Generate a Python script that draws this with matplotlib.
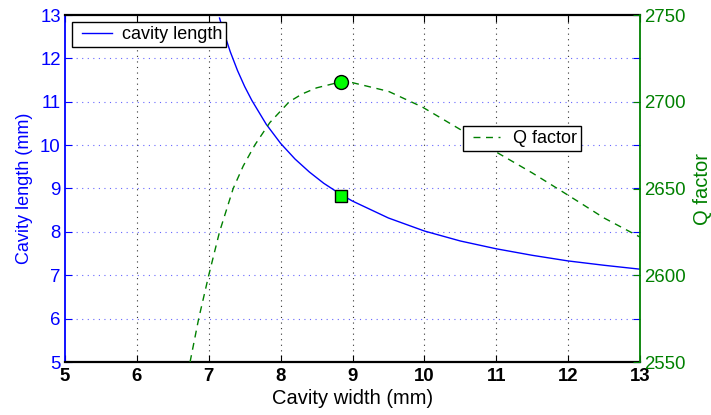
import matplotlib
matplotlib.use("Agg")
import matplotlib.pyplot as plt
from matplotlib.lines import Line2D
from matplotlib.legend_handler import HandlerLine2D

plt.rcParams['font.family'] = ['Liberation Sans', 'DejaVu Sans']

# Data
width_L = [7.15, 7.2, 7.3, 7.4, 7.5, 7.6, 7.8, 8.0, 8.2, 8.4, 8.6, 8.85, 9.0,
           9.5, 10.0, 10.5, 11.0, 11.5, 12.0, 12.5, 13.0]
length = [12.93, 12.65, 12.15, 11.72, 11.35, 11.03, 10.48, 10.04, 9.68, 9.38,
          9.12, 8.85, 8.71, 8.32, 8.02, 7.79, 7.61, 7.46, 7.33, 7.23, 7.14]

width_Q = [6.74, 6.86, 7.0, 7.15, 7.34, 7.48, 7.64, 7.85, 8.12, 8.3, 8.5,
           8.84, 9.0, 9.5, 9.97, 10.5, 11.0, 11.5, 11.85, 12.12, 12.5, 13.0]
qfactor = [2550, 2575, 2600, 2625, 2650, 2663, 2675, 2688, 2700, 2704.5,
           2708, 2711.5, 2711, 2706, 2697, 2684, 2671, 2659, 2650, 2643,
           2633, 2622]

opt_width = [8.84]
opt_length = [8.82]
opt_q = [2711.5]

x_ticks = [5, 6, 7, 8, 9, 10, 11, 12, 13]
left_ticks = [5, 6, 7, 8, 9, 10, 11, 12, 13]
right_ticks = [2550, 2600, 2650, 2700, 2750]

BLUE = '#0000ff'
GREEN = '#008000'
DASH = (0, (5, 4))


class InsetLineHandler(HandlerLine2D):
    def __init__(self, inset=0.0, **kw):
        super().__init__(**kw)
        self.inset = inset

    def get_xdata(self, legend, xdescent, ydescent, width, height, fontsize):
        x0 = -xdescent + self.inset * fontsize
        x1 = -xdescent + width
        return [x0, x1], [x0, x1]


fig = plt.figure(figsize=(7.11, 4.15), dpi=100)
ax = fig.add_axes([65/711, 1-362/415, 575/711, 347/415])
ax2 = ax.twinx()

ax.plot(width_L, length, color=BLUE, lw=1.0)
ax.plot(opt_width, opt_length, marker='s', ms=8, mfc='#00ff00', mec='black',
        mew=1.0, ls='none')
ax2.plot(width_Q, qfactor, color=GREEN, lw=1.0, ls=DASH)
ax2.plot(opt_width, opt_q, marker='o', ms=10, mfc='#00ff00', mec='black',
         mew=1.0, ls='none')

ax.set_xlim(5, 13)
ax.set_ylim(5, 13)
ax2.set_ylim(2550, 2750)
ax.set_xticks(x_ticks)
ax.set_yticks(left_ticks)
ax2.set_yticks(right_ticks)

ax2.set_zorder(2)
ax2.patch.set_visible(False)

# grids
for xv in x_ticks[1:-1]:
    ax.axvline(xv, color='#333333', lw=0.8, ls=(0, (1, 4)), zorder=0)
for yv in left_ticks[1:-1]:
    ax.axhline(yv, color='#6666ff', lw=0.8, ls=(0, (1, 4)), zorder=0)

ax.tick_params(axis='x', direction='in', top=True, length=5, colors='black',
               labelsize=13.4, pad=4)
ax.tick_params(axis='y', direction='in', right=True, length=5, colors=BLUE,
               labelsize=13.4, pad=3)
ax2.tick_params(axis='y', direction='in', length=5, colors=GREEN,
                labelsize=13.4, pad=3)
for lab in ax.get_xticklabels():
    lab.set_fontweight('bold')

ax.spines['left'].set_color(BLUE)
ax.spines['right'].set_visible(False)
ax2.spines['left'].set_visible(False)
ax2.spines['right'].set_color(GREEN)
for s in ('top', 'bottom'):
    ax.spines[s].set_color('black')
    ax.spines[s].set_linewidth(1.6)
    ax2.spines[s].set_visible(False)
ax.spines['left'].set_linewidth(1.3)
ax2.spines['right'].set_linewidth(1.3)

ax.set_xlabel('Cavity width (mm)', fontsize=14.5, color='black', labelpad=3)
ax.set_ylabel('Cavity length (mm)', fontsize=13, color=BLUE, labelpad=5)
ax2.set_ylabel('Q factor', fontsize=14.5, color=GREEN, labelpad=5)

h1 = Line2D([], [], color=BLUE, lw=1.0)
leg1 = ax2.legend([h1], ['cavity length'], loc='upper left',
                  bbox_to_anchor=(0.012, 0.98), borderaxespad=0,
                  fancybox=False, framealpha=1, edgecolor='black',
                  fontsize=13, handlelength=2.0, borderpad=0.22,
                  handletextpad=0.55,
                  handler_map={h1: InsetLineHandler(inset=0.35)})
leg1.get_frame().set_linewidth(1.0)
ax2.add_artist(leg1)
h2 = Line2D([], [], color=GREEN, lw=1.0, ls=DASH)
leg2 = ax2.legend([h2], ['Q factor'], loc='upper left',
                  bbox_to_anchor=(0.692, 0.68), borderaxespad=0,
                  fancybox=False, framealpha=1, edgecolor='black',
                  fontsize=13, handlelength=1.85, borderpad=0.22,
                  handletextpad=0.7,
                  handler_map={h2: InsetLineHandler(inset=0.35)})
leg2.get_frame().set_linewidth(1.0)

fig.savefig('out.png', dpi=100)
